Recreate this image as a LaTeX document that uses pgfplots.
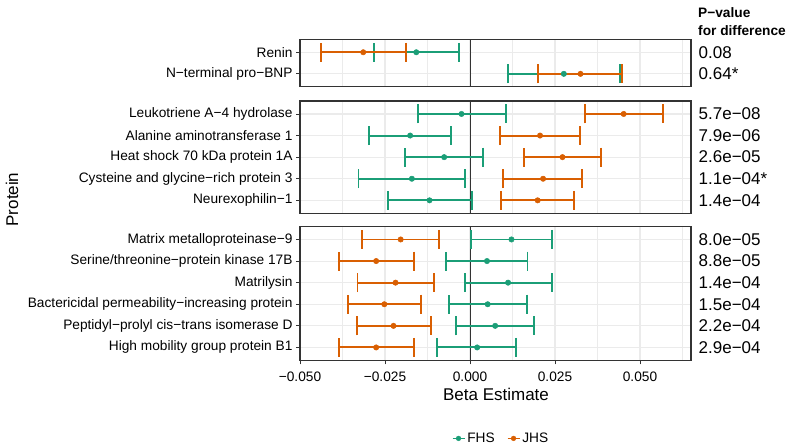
\documentclass[border=0pt]{standalone}
\usepackage{fontspec}
\setmainfont{Liberation Sans}
\usepackage{pgfplots}
\pgfplotsset{compat=1.18}
\definecolor{fhs}{HTML}{1B9E77}
\definecolor{jhs}{HTML}{D95F02}
\definecolor{gridc}{HTML}{EBEBEB}
\definecolor{frame}{HTML}{333333}
\newcommand\tickfont{\fontsize{13.7}{16}\selectfont}
\newcommand\pfont{\fontsize{17}{20}\selectfont}
\newcommand\titlefont{\fontsize{17}{20}\selectfont}

\pgfplotsset{
  panel/.style={
    scale only axis,
    width=391pt,
    xmin=-0.05, xmax=0.065,
    ymin=0.4,
    y dir=reverse,
    clip=false,
    scaled x ticks=false,
    axis line style={frame, line width=1.3pt},
    xtick={-0.05,-0.025,0,0.025,0.05},
    minor xtick={-0.0375,-0.0125,0.0125,0.0375,0.0625},
    xmajorgrids, xminorgrids, ymajorgrids,
    major grid style={gridc, line width=1.1pt},
    minor grid style={gridc, line width=0.55pt},
    tick align=outside,
    major tick length=4pt,
    minor tick length=0pt,
    tick style={frame, line width=0.8pt},
    xtick pos=bottom, ytick pos=left,
    yticklabel style={font=\tickfont, text=black},
    xticklabel style={font=\tickfont, text=black, yshift=-4pt},
    /pgf/number format/assume math mode=true,
  },
  fhsplot/.style={
    fhs, only marks, mark=*, mark size=2.7pt,
    mark options={fill=fhs, draw=fhs, line width=0.5pt},
    error bars/x dir=both, error bars/x explicit,
    error bars/error mark=|,
    error bars/error bar style={line width=1.9pt, fhs, solid},
    error bars/error mark options={line width=1.9pt, fhs, mark size=9.5pt},
  },
  jhsplot/.style={
    jhs, only marks, mark=*, mark size=2.7pt,
    mark options={fill=jhs, draw=jhs, line width=0.5pt},
    error bars/x dir=both, error bars/x explicit,
    error bars/error mark=|,
    error bars/error bar style={line width=1.9pt, jhs, solid},
    error bars/error mark options={line width=1.9pt, jhs, mark size=9.5pt},
  },
}

\begin{document}
\begin{tikzpicture}
\path (0,0) rectangle (795pt,-446pt);

% ---------- Panel 1 ----------
\begin{axis}[panel,
  at={(300pt,-39.3pt)}, anchor=north west,
  height=47.5pt, ymax=2.6,
  ytick={1,2},
  yticklabels={Renin, N−terminal pro−BNP},
  xticklabels={}, xtick style={draw=none},
]
\draw[frame, line width=0.9pt] (axis cs:0,0.4) -- (axis cs:0,2.6);
\addplot+[fhsplot] coordinates {
  (-0.0158,1) -= (0.0124,0) += (0.0126,0)
  (0.0276,2)  -= (0.0164,0) += (0.0165,0)
};
\addplot+[jhsplot] coordinates {
  (-0.0314,1) -= (0.0125,0) += (0.0125,0)
  (0.0325,2)  -= (0.0124,0) += (0.0123,0)
};
\node[anchor=west, font=\pfont, inner sep=0pt] at (axis cs:0.065,1) [xshift=7.5pt] {0.08};
\node[anchor=west, font=\pfont, inner sep=0pt] at (axis cs:0.065,2) [xshift=7.5pt] {0.64*};
\end{axis}

% ---------- Panel 2 ----------
\begin{axis}[panel,
  at={(300pt,-101pt)}, anchor=north west,
  height=112.3pt, ymax=5.6,
  ytick={1,2,3,4,5},
  yticklabels={Leukotriene A−4 hydrolase, Alanine aminotransferase 1, Heat shock 70 kDa protein 1A, Cysteine and glycine−rich protein 3, Neurexophilin−1},
  xticklabels={}, xtick style={draw=none},
]
\draw[frame, line width=0.9pt] (axis cs:0,0.4) -- (axis cs:0,5.6);
\addplot+[fhsplot] coordinates {
  (-0.0025,1) -= (0.0129,0) += (0.0130,0)
  (-0.0176,2) -= (0.0120,0) += (0.0119,0)
  (-0.0076,3) -= (0.0115,0) += (0.0115,0)
  (-0.0171,4) -= (0.0157,0) += (0.0157,0)
  (-0.0119,5) -= (0.0123,0) += (0.0124,0)
};
\addplot+[jhsplot] coordinates {
  (0.0452,1) -= (0.0114,0) += (0.0115,0)
  (0.0206,2) -= (0.0118,0) += (0.0118,0)
  (0.0272,3) -= (0.0114,0) += (0.0114,0)
  (0.0215,4) -= (0.0117,0) += (0.0115,0)
  (0.0199,5) -= (0.0108,0) += (0.0108,0)
};
\node[anchor=west, font=\pfont, inner sep=0pt] at (axis cs:0.065,1) [xshift=7.5pt] {5.7e−08};
\node[anchor=west, font=\pfont, inner sep=0pt] at (axis cs:0.065,2) [xshift=7.5pt] {7.9e−06};
\node[anchor=west, font=\pfont, inner sep=0pt] at (axis cs:0.065,3) [xshift=7.5pt] {2.6e−05};
\node[anchor=west, font=\pfont, inner sep=0pt] at (axis cs:0.065,4) [xshift=7.5pt] {1.1e−04*};
\node[anchor=west, font=\pfont, inner sep=0pt] at (axis cs:0.065,5) [xshift=7.5pt] {1.4e−04};
\end{axis}

% ---------- Panel 3 ----------
\begin{axis}[panel,
  at={(300pt,-226.5pt)}, anchor=north west,
  height=133.9pt, ymax=6.6,
  ytick={1,2,3,4,5,6},
  yticklabels={Matrix metalloproteinase−9, Serine/threonine−protein kinase 17B, Matrilysin, Bactericidal permeability−increasing protein, Peptidyl−prolyl cis−trans isomerase D, High mobility group protein B1},
  xticklabels={−0.050, −0.025, 0.000, 0.025, 0.050},
  legend style={at={(0.514,0)}, anchor=center, yshift=-78pt, draw=none, fill=none,
    legend columns=2,
    /tikz/every even column/.append style={column sep=10pt}},
  legend cell align=left,
]
\draw[frame, line width=0.9pt] (axis cs:0,0.4) -- (axis cs:0,6.6);
\addplot+[forget plot, fhsplot] coordinates {
  (0.0122,1) -= (0.0118,0) += (0.0119,0)
  (0.0050,2) -= (0.0120,0) += (0.0119,0)
  (0.0112,3) -= (0.0127,0) += (0.0128,0)
  (0.0052,4) -= (0.0113,0) += (0.0115,0)
  (0.0074,5) -= (0.0116,0) += (0.0115,0)
  (0.0021,6) -= (0.0117,0) += (0.0115,0)
};
\addplot+[forget plot, jhsplot] coordinates {
  (-0.0204,1) -= (0.0113,0) += (0.0112,0)
  (-0.0276,2) -= (0.0110,0) += (0.0111,0)
  (-0.0219,3) -= (0.0112,0) += (0.0114,0)
  (-0.0252,4) -= (0.0108,0) += (0.0109,0)
  (-0.0225,5) -= (0.0107,0) += (0.0109,0)
  (-0.0276,6) -= (0.0109,0) += (0.0110,0)
};
\addlegendimage{fhs, legend image code/.code={\draw[fhs, line width=1.6pt] (0pt,0pt) -- (12pt,0pt); \fill[fhs] (6pt,0pt) circle (2.4pt);}}
\addlegendentry{\tickfont FHS}
\addlegendimage{jhs, legend image code/.code={\draw[jhs, line width=1.6pt] (0pt,0pt) -- (12pt,0pt); \fill[jhs] (6pt,0pt) circle (2.4pt);}}
\addlegendentry{\tickfont JHS}
\node[anchor=west, font=\pfont, inner sep=0pt] at (axis cs:0.065,1) [xshift=7.5pt] {8.0e−05};
\node[anchor=west, font=\pfont, inner sep=0pt] at (axis cs:0.065,2) [xshift=7.5pt] {8.8e−05};
\node[anchor=west, font=\pfont, inner sep=0pt] at (axis cs:0.065,3) [xshift=7.5pt] {1.4e−04};
\node[anchor=west, font=\pfont, inner sep=0pt] at (axis cs:0.065,4) [xshift=7.5pt] {1.5e−04};
\node[anchor=west, font=\pfont, inner sep=0pt] at (axis cs:0.065,5) [xshift=7.5pt] {2.2e−04};
\node[anchor=west, font=\pfont, inner sep=0pt] at (axis cs:0.065,6) [xshift=7.5pt] {2.9e−04};
\end{axis}

% ---------- titles ----------
\node[anchor=base west, inner sep=0pt, font=\bfseries\tickfont] at (698pt,-18pt) {P−value};
\node[anchor=base west, inner sep=0pt, font=\bfseries\tickfont] at (698pt,-36pt) {for difference};
\node[rotate=90, font=\titlefont, inner sep=0pt] at (12pt,-199.5pt) {Protein};
\node[font=\titlefont, inner sep=0pt] at (496pt,-394pt) {Beta Estimate};

\pgfresetboundingbox
\path[use as bounding box] (0,0) rectangle (795pt,-446pt);
\end{tikzpicture}
\end{document}
